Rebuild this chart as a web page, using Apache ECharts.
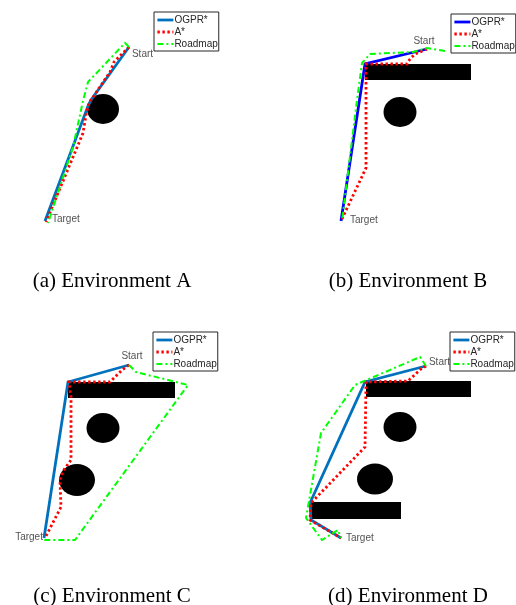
<!DOCTYPE html>
<html>
<head>
<meta charset="utf-8">
<script src="https://cdn.jsdelivr.net/npm/echarts@6/dist/echarts.min.js"></script>
<style>
  html, body { margin: 0; padding: 0; background: #fff; }
  #chart { width: 516px; height: 605px; }
</style>
</head>
<body>
<div id="chart"></div>
<script>
// Planned paths in map units (x to the right, y downward), one set per environment.
const seriesNames = ['OGPR*', 'A*', 'Roadmap'];
const captions = ['(a) Environment A', '(b) Environment B', '(c) Environment C', '(d) Environment D'];
const endLabels = ['Start', 'Target'];

// Environment A
const ogprA = [[129, 47], [91, 100], [88, 106], [45, 221]];
const astarA = [[129, 47], [114, 62], [110, 72], [89, 103], [86, 115], [83, 133], [46, 222]];
const roadmapA = [[129, 47], [125, 43], [88, 82], [83, 101], [73, 147], [48, 223]];
const circlesA = [[103, 109, 16, 15]];          // cx, cy, rx, ry
const rectsA = [];                                // x1, y1, x2, y2

// Environment B
const ogprB = [[169, 49], [107, 64], [83, 221]];
const astarB = [[169, 49], [157, 54], [152, 59], [149, 64], [108, 64], [108, 168], [100, 185], [83, 221]];
const roadmapB = [[187, 51], [169, 48], [155, 52], [112, 54], [104, 63], [99, 100], [84, 221]];
const circlesB = [[142, 112, 16.5, 15]];
const rectsB = [[107, 64, 213, 80]];

// Environment C
const ogprC = [[129, 45], [68, 62], [44, 218]];
const astarC = [[129, 45], [122, 50], [110, 62], [69, 62], [71, 77], [71, 140], [63, 151], [60, 160], [61, 187], [45, 218]];
const roadmapC = [[129, 45], [136, 52], [188, 65], [75, 220], [44, 220]];
const circlesC = [[103, 108, 16.5, 15], [77, 160, 18, 16]];
const rectsC = [[68, 62, 175, 78]];

// Environment D
const ogprD = [[168, 46], [107, 62], [52, 183], [53, 200], [83, 218]];
const astarD = [[168, 46], [163, 49], [150, 61], [108, 62], [107, 127], [53, 183], [52, 200], [83, 218]];
const roadmapD = [[168, 46], [162, 37], [97, 65], [63, 113], [48, 198], [64, 220], [80, 210], [83, 218]];
const circlesD = [[142, 107, 16.5, 15], [117, 159, 18, 15.5]];
const rectsD = [[108, 61, 213, 77], [52, 182, 143, 199]];

const envs = [
  { ogpr: ogprA, astar: astarA, roadmap: roadmapA, circles: circlesA, rects: rectsA },
  { ogpr: ogprB, astar: astarB, roadmap: roadmapB, circles: circlesB, rects: rectsB },
  { ogpr: ogprC, astar: astarC, roadmap: roadmapC, circles: circlesC, rects: rectsC },
  { ogpr: ogprD, astar: astarD, roadmap: roadmapD, circles: circlesD, rects: rectsD }
];

// Panel placement and styling
const MAP_W = 258, MAP_H = 240;
const panelLayout = [
  { left: 0,   top: 0,   legend: [154, 12],  blue: '#0072BD', cap: [112, 281],
    startLbl: { pos: [3, 7],  align: 'left' },   targetLbl: { pos: [7, -2], align: 'left' } },
  { left: 258, top: 0,   legend: [451, 14],  blue: '#0000FF', cap: [408, 281],
    startLbl: { pos: [-3, -8], align: 'center' }, targetLbl: { pos: [9, -1], align: 'left' } },
  { left: 0,   top: 320, legend: [153, 332], blue: '#0072BD', cap: [112, 596],
    startLbl: { pos: [3, -9], align: 'center' }, targetLbl: { pos: [-1, -1], align: 'right' } },
  { left: 258, top: 320, legend: [450, 332], blue: '#0072BD', cap: [408, 596],
    startLbl: { pos: [3, -4], align: 'left' },   targetLbl: { pos: [5, 0], align: 'left' } }
];

const RED = '#FF0000', GREEN = '#00FF00', INK = '#262626';
const sansFont = '"Liberation Sans", Arial, Helvetica, sans-serif';
const serifFont = '"Liberation Serif", "Times New Roman", Times, serif';

function obstacleItem(params, api) {
  const kind = api.value(4);
  if (kind === 0) {
    const c = api.coord([api.value(0), api.value(1)]);
    const s = api.size([api.value(2), api.value(3)]);
    return {
      type: 'circle', x: c[0], y: c[1], scaleX: s[0], scaleY: s[1],
      shape: { cx: 0, cy: 0, r: 1 },
      style: { fill: '#000' }
    };
  }
  const p1 = api.coord([api.value(0), api.value(1)]);
  const p2 = api.coord([api.value(2), api.value(3)]);
  return {
    type: 'rect',
    shape: { x: Math.min(p1[0], p2[0]), y: Math.min(p1[1], p2[1]),
             width: Math.abs(p2[0] - p1[0]), height: Math.abs(p2[1] - p1[1]) },
    style: { fill: '#000' }
  };
}

const grid = [], xAxis = [], yAxis = [], series = [], legend = [], graphic = [];

envs.forEach((env, i) => {
  const L = panelLayout[i];
  grid.push({ left: L.left, top: L.top, width: MAP_W, height: MAP_H, show: false });
  xAxis.push({ type: 'value', gridIndex: i, min: 0, max: MAP_W, show: false });
  yAxis.push({ type: 'value', gridIndex: i, min: 0, max: MAP_H, inverse: true, show: false });

  const obstacleData = env.circles.map(c => [c[0], c[1], c[2], c[3], 0])
    .concat(env.rects.map(r => [r[0], r[1], r[2], r[3], 1]));
  series.push({
    type: 'custom', name: 'obstacles', xAxisIndex: i, yAxisIndex: i, z: 1,
    renderItem: obstacleItem, data: obstacleData, silent: true
  });

  const common = { type: 'line', xAxisIndex: i, yAxisIndex: i, symbol: 'none', showSymbol: false, silent: true };
  series.push(Object.assign({}, common, {
    name: seriesNames[0], data: env.ogpr, z: 2,
    lineStyle: { color: L.blue, width: 2.8, type: 'solid', cap: 'butt', join: 'miter' },
    itemStyle: { color: L.blue }
  }));
  series.push(Object.assign({}, common, {
    name: seriesNames[1], data: env.astar, z: 3,
    lineStyle: { color: RED, width: 2.8, type: [2.4, 2.6], cap: 'butt', join: 'miter' },
    itemStyle: { color: RED }
  }));
  series.push(Object.assign({}, common, {
    name: seriesNames[2], data: env.roadmap, z: 4,
    lineStyle: { color: GREEN, width: 2, type: [6, 3, 2, 3], cap: 'butt', join: 'miter' },
    itemStyle: { color: GREEN }
  }));

  // Start / Target text next to the OGPR* path end points
  const start = env.ogpr[0], target = env.ogpr[env.ogpr.length - 1];
  const lbl = (o, text) => ({
    show: true, formatter: text, position: o.pos, align: o.align, verticalAlign: 'middle',
    fontSize: 10, fontFamily: sansFont, color: INK
  });
  series.push({
    type: 'scatter', name: 'endpoints', xAxisIndex: i, yAxisIndex: i, z: 5, silent: true,
    symbolSize: 0.1, itemStyle: { color: 'transparent' },
    data: [
      { value: start, label: lbl(L.startLbl, endLabels[0]) },
      { value: target, label: lbl(L.targetLbl, endLabels[1]) }
    ]
  });

  legend.push({
    left: L.legend[0], top: L.legend[1], orient: 'vertical',
    data: seriesNames.map((n, k) => (k === 0 ? { name: n, lineStyle: { color: L.blue } } : { name: n })),
    padding: [3, 1, 2, 2], itemGap: 2, itemWidth: 16, itemHeight: 10,
    backgroundColor: '#fff', borderColor: INK, borderWidth: 1, borderRadius: 0,
    textStyle: { fontSize: 10, color: INK, fontFamily: sansFont, padding: [0, 0, 0, -4] },
    lineStyle: { width: 'inherit' }, itemStyle: { opacity: 0 },
    selectedMode: false
  });

  graphic.push({
    type: 'text', x: L.cap[0], y: L.cap[1], silent: true,
    style: { text: captions[i], align: 'center', verticalAlign: 'middle',
             fontSize: 21, fontFamily: serifFont, fill: '#000' }
  });
});

const chart = echarts.init(document.getElementById('chart'), null, { renderer: 'canvas' });
chart.setOption({
  animation: false,
  backgroundColor: '#fff',
  grid, xAxis, yAxis, series, legend, graphic
});
</script>
</body>
</html>
